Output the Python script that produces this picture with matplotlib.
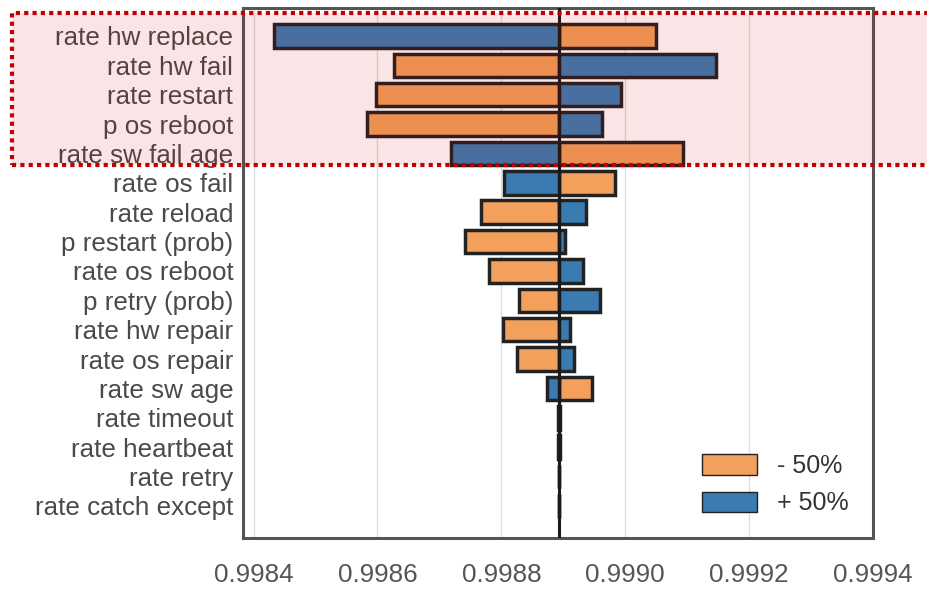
import matplotlib
matplotlib.use("Agg")
import matplotlib.pyplot as plt
import matplotlib.patches as mpatches
from matplotlib.patches import Patch

# ---- data ----
params = ["rate hw replace", "rate hw fail", "rate restart", "p os reboot",
          "rate sw fail age", "rate os fail", "rate reload", "p restart (prob)",
          "rate os reboot", "p retry (prob)", "rate hw repair", "rate os repair",
          "rate sw age", "rate timeout", "rate heartbeat", "rate retry",
          "rate catch except"]
base_value = 0.998893
minus50 = [0.999050, 0.998626, 0.998597, 0.998583, 0.999094, 0.998983,
           0.998768, 0.998741, 0.998780, 0.998829, 0.998803, 0.998825,
           0.998947, 0.998892, 0.998892, 0.998893, 0.998893]
plus50 = [0.998433, 0.999146, 0.998993, 0.998963, 0.998718, 0.998805,
          0.998937, 0.998903, 0.998932, 0.998959, 0.998911, 0.998917,
          0.998874, 0.998894, 0.998894, 0.998893, 0.998893]
xticks = [0.9984, 0.9986, 0.9988, 0.9990, 0.9992, 0.9994]
legend_labels = ["- 50%", "+ 50%"]

orange = "#f2a05b"
blue = "#3a7cb2"
edge = "#222222"

plt.rcParams['font.family'] = ['Liberation Sans', 'DejaVu Sans']

fig = plt.figure(figsize=(9.28, 5.89), dpi=100)
ax = fig.add_axes([243/928, 1-538/589, (873-243)/928, (538-8)/589])

ypos = list(range(len(params)))
ax.barh(ypos, [m - base_value for m in minus50], left=base_value, height=0.8,
        color=orange, edgecolor=edge, linewidth=2.5, zorder=2)
ax.barh(ypos, [p - base_value for p in plus50], left=base_value, height=0.8,
        color=blue, edgecolor=edge, linewidth=2.5, zorder=2)
ax.axvline(base_value, color="#1a1a1a", linewidth=2.2, zorder=3)

ax.set_ylim(len(params) - 1 + 1.09, -0.95)
ax.set_xlim(0.998383, 0.9994)
ax.set_xticks(xticks)
ax.set_xticklabels([f"{t:.4f}" for t in xticks])
ax.set_yticks(ypos)
ax.set_yticklabels(params)
ax.tick_params(axis='y', length=0, pad=7, labelsize=18.7, labelcolor="#4a4a4a")
ax.tick_params(axis='x', length=0, pad=18, labelsize=18.7, labelcolor="#555555")
ax.grid(axis='x', color="#dddddd", linewidth=1, zorder=0)
ax.set_axisbelow(True)
for s in ax.spines.values():
    s.set_color("#555555")
    s.set_linewidth(2.2)

handles = [Patch(facecolor=orange, edgecolor=edge, linewidth=1),
           Patch(facecolor=blue, edgecolor=edge, linewidth=1)]
ax.legend(handles, legend_labels, loc="lower right", bbox_to_anchor=(0.997, 0.0),
          frameon=False, fontsize=18, handlelength=2.2, handleheight=0.9,
          handletextpad=0.8, labelspacing=0.55, labelcolor="#333333")

# highlight box
rect = mpatches.Rectangle((12/928, 1-165/589), (940-12)/928, (165-13)/589,
                          transform=fig.transFigure, facecolor=(0.78, 0, 0, 0.1),
                          edgecolor="#c00000", linewidth=3, linestyle=(0, (1, 1)),
                          clip_on=False, zorder=10)
rect.set_capstyle('butt')
fig.patches.append(rect)

fig.savefig("out.png", dpi=100)
